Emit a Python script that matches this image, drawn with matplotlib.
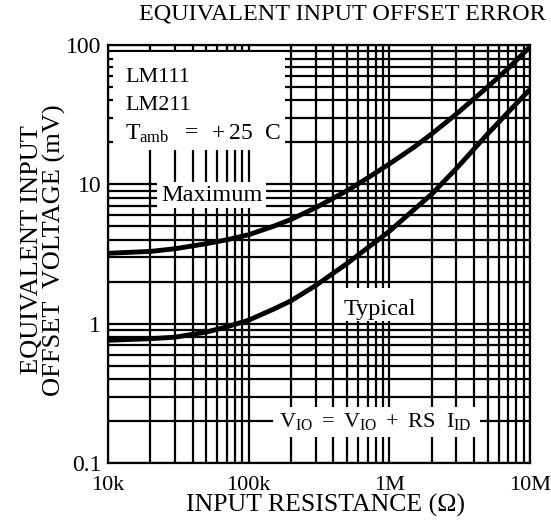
import matplotlib
matplotlib.use("Agg")
import matplotlib.pyplot as plt
from matplotlib.patches import Rectangle
from matplotlib.ticker import LogLocator, FixedLocator, NullFormatter

plt.rcParams['font.family'] = ['Liberation Serif', 'DejaVu Serif']
plt.rcParams['mathtext.fontset'] = 'custom'
plt.rcParams['mathtext.rm'] = 'Liberation Serif'
plt.rcParams['mathtext.it'] = 'Liberation Serif'

# Data
resistance = [1e4, 2e4, 3e4, 5e4, 7e4, 1e5, 1.5e5, 2e5, 3e5, 5e5, 7e5,
              1e6, 1.5e6, 2e6, 3e6, 5e6, 7e6, 1e7]
max_mv = [3.2, 3.3, 3.45, 3.75, 4.0, 4.35, 5.0, 5.6, 6.8, 9.0, 11.1,
          14.0, 18.5, 23, 32, 50, 68, 97]
typ_mv = [0.76, 0.78, 0.80, 0.87, 0.95, 1.06, 1.27, 1.46, 1.88, 2.7, 3.5,
          4.6, 6.6, 8.5, 13, 23, 33, 48]

x_ticks = [1e4, 1e5, 1e6, 1e7]
x_labels = ['10k', '100k', '1M', '10M']
y_ticks = [0.1, 1, 10, 100]
y_labels = ['0.1', '1', '10', '100']

FS = 16

fig = plt.figure(figsize=(5.51, 5.23), dpi=100)
ax = fig.add_axes([108/551, 1-463/523, 422/551, 418/523])
ax.set_xscale('log')
ax.set_yscale('log')
ax.set_xlim(1e4, 1e7)
ax.set_ylim(0.1, 100)

ax.xaxis.set_major_locator(FixedLocator(x_ticks))
ax.yaxis.set_major_locator(FixedLocator(y_ticks))
ax.set_xticklabels(x_labels)
ax.set_yticklabels(y_labels)
ax.xaxis.set_minor_locator(LogLocator(base=10, subs=range(2, 10)))
ax.yaxis.set_minor_locator(LogLocator(base=10, subs=range(2, 10)))
ax.xaxis.set_minor_formatter(NullFormatter())
ax.yaxis.set_minor_formatter(NullFormatter())
ax.tick_params(which='both', length=0)
ax.tick_params(axis='x', pad=9, labelsize=16)
ax.tick_params(axis='y', pad=5, labelsize=17)

ax.set_axisbelow(True)
ax.grid(which='both', color='black', linewidth=1.6)
for s in ax.spines.values():
    s.set_linewidth(1.6)

# white masks behind annotations
masks = [(0.012, 0.749, 0.407, 0.234),
         (0.116, 0.610, 0.258, 0.062),
         (0.550, 0.340, 0.189, 0.079),
         (0.391, 0.062, 0.491, 0.072)]
for (x0, y0, w, h) in masks:
    ax.add_patch(Rectangle((x0, y0), w, h, transform=ax.transAxes,
                           facecolor='white', edgecolor='none', zorder=2))

ax.plot(resistance, max_mv, color='black', linewidth=3.5, zorder=3,
        solid_capstyle='butt')
ax.plot(resistance, typ_mv, color='black', linewidth=3.5, zorder=3,
        solid_capstyle='butt')

tkw = dict(transform=ax.transAxes, fontsize=FS, zorder=4)
ax.text(0.040, 0.922, 'LM111', ha='left', va='center', **tkw)
ax.text(0.040, 0.856, 'LM211', ha='left', va='center', **tkw)
ax.text(0.040, 0.773, r'$\mathrm{T_{amb}\ \ =\ +25\ \ C}$', ha='left',
        va='baseline', transform=ax.transAxes, fontsize=17, zorder=4)
ax.text(0.246, 0.641, 'Maximum', ha='center', va='center',
        transform=ax.transAxes, fontsize=17.5, zorder=4)
ax.text(0.645, 0.368, 'Typical', ha='center', va='center',
        transform=ax.transAxes, fontsize=17.5, zorder=4)
ax.text(0.405, 0.086, r'$\mathrm{V_{IO}\ =\ V_{IO}\ +\ RS\ \ I_{ID}}$',
        ha='left', va='baseline', **tkw)

fig.text(342/551, 1-14/523, 'EQUIVALENT INPUT OFFSET ERROR',
         ha='center', va='center', fontsize=17.4)
fig.text(43.5/551, 1-250/523, 'EQUIVALENT INPUT\nOFFSET  VOLTAGE (mV)',
         ha='center', va='center', rotation=90, fontsize=19,
         multialignment='center', linespacing=1.05)
fig.text(326/551, 1-505/523, 'INPUT RESISTANCE (Ω)', ha='center',
         va='center', fontsize=18.5)

fig.savefig('out.png', dpi=100)
